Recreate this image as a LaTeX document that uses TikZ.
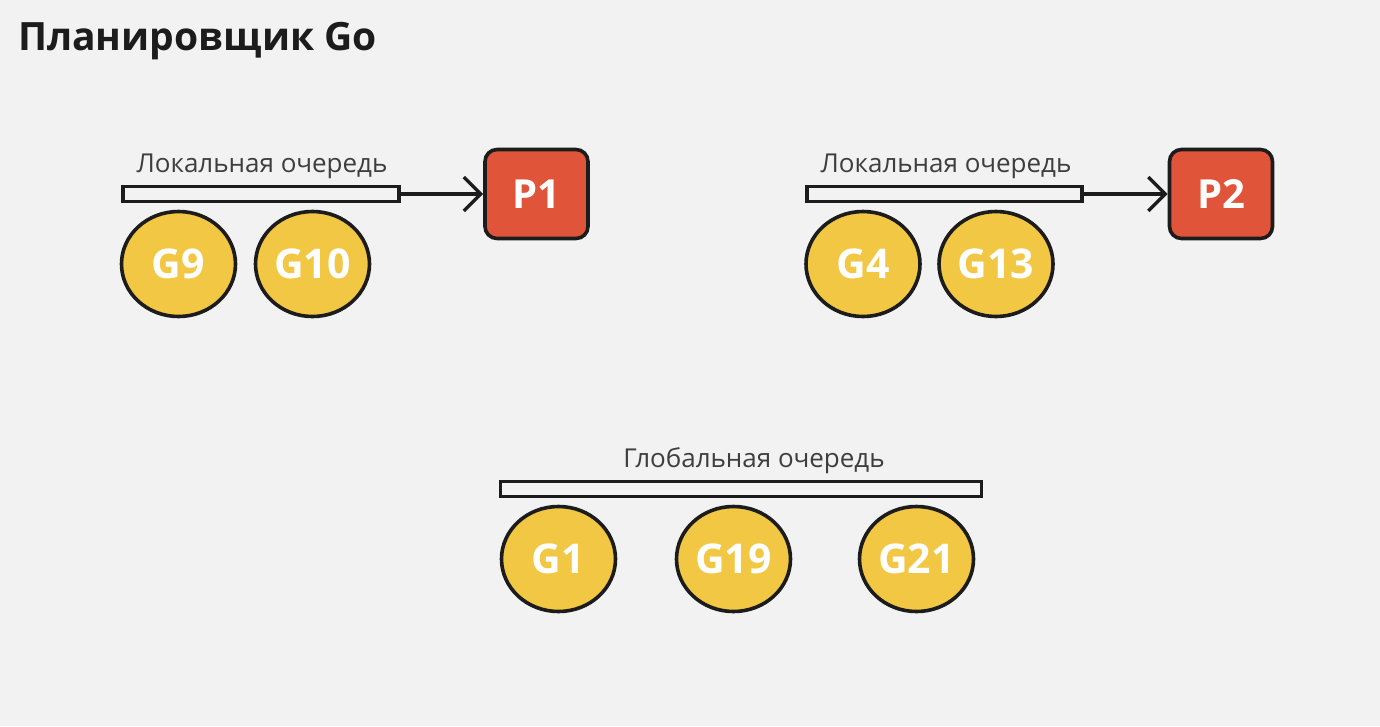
\documentclass[tikz,border=0pt]{standalone}
\usepackage{fontspec}
\setmainfont{Open Sans}
\usetikzlibrary{arrows.meta,shapes.geometric}
\definecolor{bg}{HTML}{F2F2F2}
\definecolor{gold}{HTML}{F2C744}
\definecolor{pred}{HTML}{E0553A}
\definecolor{ink}{HTML}{1C1C1C}
\begin{document}
\begin{tikzpicture}[x=1pt,y=-1pt,
  gnode/.style={ellipse,draw=ink,line width=3.6pt,fill=gold,minimum width=114pt,minimum height=105pt,inner sep=0pt,text=white,font=\fontsize{41}{43}\selectfont\bfseries},
  pnode/.style={rectangle,rounded corners=12pt,draw=ink,line width=3.6pt,fill=pred,minimum width=103pt,minimum height=89pt,inner sep=0pt,text=white,font=\fontsize{40}{42}\selectfont\bfseries},
  qbar/.style={draw=ink,line width=3.6pt,fill=bg,minimum height=15pt,inner sep=0pt},
  qlabel/.style={text=ink!85,font=\fontsize{26}{28}\selectfont,inner sep=0pt,anchor=base},
  conn/.style={draw=ink,line width=3.4pt,-{Straight Barb[length=17pt,width=34pt,line width=3.4pt]}}
]
\useasboundingbox[fill=bg] (0,0) rectangle (1380,726);
\node[anchor=base west,inner sep=0pt,text=ink,font=\fontsize{39}{41}\selectfont\bfseries] (title) at (18,50) {Планировщик Go};

% local queue 1
\node[qbar,minimum width=276pt] (q1) at (261,194) {};
\node[qlabel] (l1) at (262,172) {Локальная очередь};
\node[pnode] (p1) at (536.5,194) {P1};
\draw[conn] (q1.east) -- (p1.west);
\node[gnode] (g9) at (178.5,264) {G9};
\node[gnode] (g10) at (312.5,264) {G10};

% local queue 2
\node[qbar,minimum width=275pt] (q2) at (944.5,194) {};
\node[qlabel] (l2) at (946,172) {Локальная очередь};
\node[pnode] (p2) at (1221,194) {P2};
\draw[conn] (q2.east) -- (p2.west);
\node[gnode] (g4) at (863,264) {G4};
\node[gnode] (g13) at (996,264) {G13};

% global queue
\node[qbar,minimum width=481pt] (gq) at (741,489) {};
\node[qlabel] (lg) at (754,467) {Глобальная очередь};
\node[gnode] (g1) at (558.5,559) {G1};
\node[gnode] (g19) at (733.5,559) {G19};
\node[gnode] (g21) at (916.5,559) {G21};
\end{tikzpicture}
\end{document}
